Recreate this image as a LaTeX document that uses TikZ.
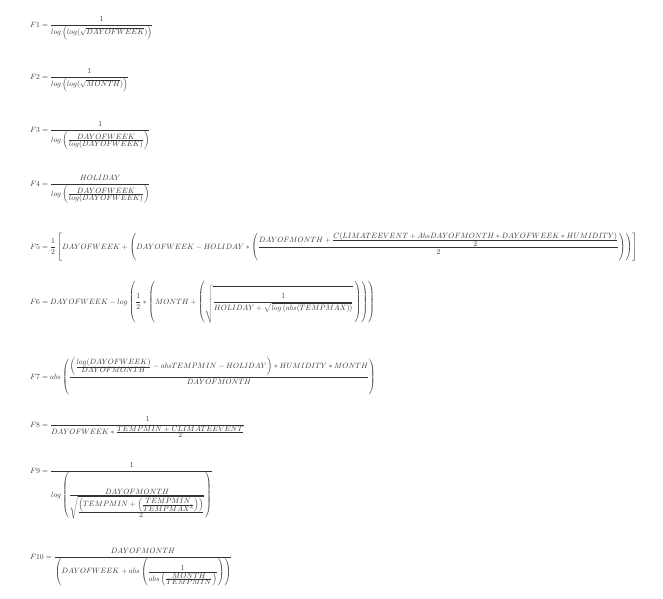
\documentclass[tikz,border=0pt]{standalone}
\usepackage{amsmath, amssymb}
\usepackage{tikz}
\newcommand{\tf}[2]{\frac{\textstyle #1}{\textstyle #2}}
\tikzset{formula/.style={anchor=base west, inner sep=0pt, text=black!80, scale=0.765, transform shape}}

\begin{document}
\begin{tikzpicture}[x=1pt, y=-1pt]
    \useasboundingbox (0,0) rectangle (663,598);
    \node(F1)[formula] at (30,27) {$\displaystyle F1=\frac{1}{log\left(log(\sqrt{DAYOFWEEK})\right)}$};
    \node(F2)[formula] at (30,79) {$\displaystyle F2=\frac{1}{log\left(log(\sqrt{MONTH})\right)}$};
    \node(F3)[formula] at (30,132) {$\displaystyle F3=\frac{1}{log\left(\tf{DAYOFWEEK}{log(DAYOFWEEK)}\right)}$};
    \node(F4)[formula] at (30,186) {$\displaystyle F4=\frac{HOLIDAY}{log\left(\tf{DAYOFWEEK}{log(DAYOFWEEK)}\right)}$};
    \node(F5)[formula] at (30,249) {$\displaystyle F5=\frac{1}{2}\left[DAYOFWEEK+\left(DAYOFWEEK-HOLIDAY\ast\left(\frac{DAYOFMONTH+\tf{C(LIMATEEVENT+AbsDAYOFMONTH\ast DAYOFWEEK\ast HUMIDITY)}{2}}{2}\right)\right)\right]$};
    \node(F6)[formula] at (30,304) {$\displaystyle F6=DAYOFWEEK-log\left(\frac{1}{2}\ast\left(MONTH+\left(\sqrt{\rule[-24pt]{0pt}{45pt}\frac{1}{HOLIDAY+\sqrt{log\left(abs(TEMPMAX)\right)}}}\,\right)\right)\right)$};
    \node(F7)[formula] at (30,379) {$\displaystyle F7=abs\left(\frac{\left(\tf{log(DAYOFWEEK)}{DAYOFMONTH}-absTEMPMIN-HOLIDAY\right)\ast HUMIDITY\ast MONTH}{DAYOFMONTH}\right)$};
    \node(F8)[formula] at (30,427) {$\displaystyle F8=\frac{1}{DAYOFWEEK\ast\tf{TEMPMIN+CLIMATEEVENT}{2}}$};
    \node(F9)[formula] at (30,473) {$\displaystyle F9=\frac{1}{log\left(\tf{DAYOFMONTH}{\sqrt{\tf{\left(TEMPMIN+\left(\tf{TEMPMIN}{TEMPMAX^2}\right)\right)}{2}}}\right)}$};
    \node(F10)[formula] at (30,559) {$\displaystyle F10=\frac{DAYOFMONTH}{\left(DAYOFWEEK+abs\left(\tf{1}{abs\left(\tf{MONTH}{TEMPMIN}\right)}\right)\right)}$};
\end{tikzpicture}
\end{document}
